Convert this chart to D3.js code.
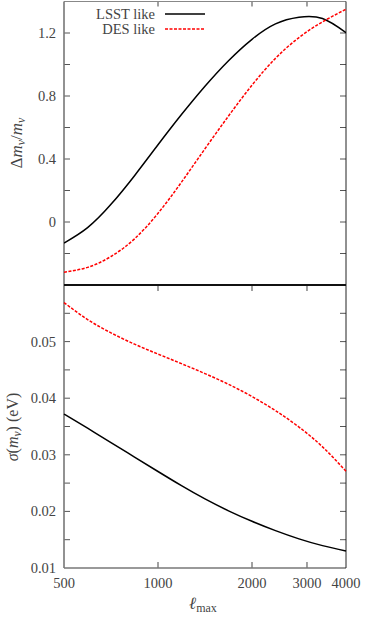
<!DOCTYPE html>
<html>
<head>
<meta charset="utf-8">
<script src="https://cdn.jsdelivr.net/npm/d3@7"></script>
<style>
  body { margin: 0; background: #fff; }
</style>
</head>
<body>
<div id="chart-area"></div>
<script>
// l_max grid, evenly spaced in log
const ell = [500, 595, 707, 841, 1000, 1189, 1414, 1682, 2000, 2378, 2828, 3364, 4000]
const lsstBias = [-0.134, -0.036, 0.112, 0.294, 0.490, 0.682, 0.862, 1.024, 1.160, 1.258, 1.300, 1.292, 1.202]
const desBias = [-0.319, -0.288, -0.219, -0.107, 0.055, 0.253, 0.465, 0.673, 0.869, 1.039, 1.171, 1.271, 1.351]
const lsstSigma = [0.0372, 0.0347, 0.03215, 0.0296, 0.02705, 0.02455, 0.0222, 0.0201, 0.01825, 0.0166, 0.01515, 0.01395, 0.0130]
const desSigma = [0.0569, 0.0539, 0.05155, 0.04955, 0.0478, 0.0461, 0.04435, 0.04245, 0.0403, 0.0378, 0.0349, 0.0314, 0.0271]

const xTicks = [500, 1000, 2000, 3000, 4000]
const topTicks = [0, 0.4, 0.8, 1.2]
const topMinor = [-0.2, 0, 0.2, 0.4, 0.6, 0.8, 1.0, 1.2]
const botTicks = [0.01, 0.02, 0.03, 0.04, 0.05]
const botMinor = [0.015, 0.02, 0.025, 0.03, 0.035, 0.04, 0.045, 0.05, 0.055]

const L = 64, R = 346
const TOP = { y0: 1.5, y1: 285 }
const BOT = { y0: 285, y1: 568 }
const FONT = "'Liberation Serif', 'DejaVu Serif', serif"

const svg = d3.select("#chart-area").append("svg")
  .attr("width", 367)
  .attr("height", 617)
  .attr("font-family", FONT)

const x = d3.scaleLog().domain([500, 4000]).range([L, R])
const yTop = d3.scaleLinear().domain([-0.4, 1.4]).range([TOP.y1, TOP.y0])
const yBot = d3.scaleLinear().domain([0.01, 0.06]).range([BOT.y1, BOT.y0])

// inward ticks on both sides
function yTicksIn(y, vals) {
  vals.forEach(v => {
    svg.append("line").attr("x1", L).attr("x2", L + 6).attr("y1", y(v)).attr("y2", y(v))
      .attr("stroke", "#555").attr("stroke-width", 1)
    svg.append("line").attr("x1", R).attr("x2", R - 6).attr("y1", y(v)).attr("y2", y(v))
      .attr("stroke", "#555").attr("stroke-width", 1)
  })
}
yTicksIn(yTop, topMinor)
yTicksIn(yBot, botMinor)

const inner = [1000, 2000, 3000]
inner.forEach(v => {
  svg.append("line").attr("x1", x(v)).attr("x2", x(v)).attr("y1", TOP.y0).attr("y2", TOP.y0 + 5)
    .attr("stroke", "#444")
  svg.append("line").attr("x1", x(v)).attr("x2", x(v)).attr("y1", BOT.y0).attr("y2", BOT.y0 + 6)
    .attr("stroke", "#444")
  svg.append("line").attr("x1", x(v)).attr("x2", x(v)).attr("y1", BOT.y1).attr("y2", BOT.y1 - 6)
    .attr("stroke", "#444")
})

// tick labels
svg.selectAll(".ytop").data(topTicks).join("text")
  .attr("x", L - 8).attr("y", d => yTop(d) + 5)
  .attr("text-anchor", "end").attr("fill", "#444").style("font-size", "14.5px")
  .text(d => d === 0 ? "0" : d.toFixed(1))

svg.selectAll(".ybot").data(botTicks).join("text")
  .attr("x", L - 8).attr("y", d => yBot(d) + 5)
  .attr("text-anchor", "end").attr("fill", "#444").style("font-size", "14.5px")
  .text(d => d.toFixed(2))

svg.selectAll(".xl").data(xTicks).join("text")
  .attr("x", d => x(d)).attr("y", 588)
  .attr("text-anchor", "middle").attr("fill", "#444").style("font-size", "14.5px")
  .text(d => d)

// frame
svg.append("line").attr("x1", L).attr("x2", R).attr("y1", TOP.y0).attr("y2", TOP.y0)
  .attr("stroke", "#888").attr("stroke-width", 1.2)
svg.append("line").attr("x1", L).attr("x2", L).attr("y1", TOP.y0).attr("y2", BOT.y1)
  .attr("stroke", "#777").attr("stroke-width", 1.6)
svg.append("line").attr("x1", L).attr("x2", R).attr("y1", BOT.y1).attr("y2", BOT.y1)
  .attr("stroke", "#777").attr("stroke-width", 1.6)
svg.append("line").attr("x1", R).attr("x2", R).attr("y1", TOP.y0).attr("y2", BOT.y1)
  .attr("stroke", "#222").attr("stroke-width", 1)
svg.append("line").attr("x1", L).attr("x2", R).attr("y1", BOT.y0).attr("y2", BOT.y0)
  .attr("stroke", "#111").attr("stroke-width", 2)

// curves
svg.append("clipPath").attr("id", "ct").append("rect")
  .attr("x", L).attr("y", TOP.y0).attr("width", R - L).attr("height", TOP.y1 - TOP.y0)

function curve(ys, y, color, dash, clip) {
  const line = d3.line()
    .x(d => x(d[0]))
    .y(d => y(d[1]))
    .curve(d3.curveNatural)
  const p = svg.append("path")
    .datum(ell.map((v, i) => [v, ys[i]]))
    .attr("fill", "none")
    .attr("stroke", color)
    .attr("stroke-width", 1.5)
    .attr("d", line)
  if (dash) p.attr("stroke-dasharray", dash)
  if (clip) p.attr("clip-path", "url(#ct)")
}
curve(lsstBias, yTop, "#000", null, true)
curve(desBias, yTop, "#ff0000", "3,1.5", true)
curve(lsstSigma, yBot, "#000", null, false)
curve(desSigma, yBot, "#ff0000", "3,1.5", false)

// legend
svg.append("text").attr("x", 155).attr("y", 19).attr("text-anchor", "end")
  .attr("fill", "#444").style("font-size", "14.5px").text("LSST like")
svg.append("text").attr("x", 155).attr("y", 34).attr("text-anchor", "end")
  .attr("fill", "#444").style("font-size", "14.5px").text("DES like")
svg.append("line").attr("x1", 165).attr("x2", 205).attr("y1", 14).attr("y2", 14)
  .attr("stroke", "#000").attr("stroke-width", 1.5)
svg.append("line").attr("x1", 165).attr("x2", 205).attr("y1", 29).attr("y2", 29)
  .attr("stroke", "#ff0000").attr("stroke-width", 1.5).attr("stroke-dasharray", "3,1.5")

// y labels
const yl1 = svg.append("text")
  .attr("transform", "translate(22,143) rotate(-90)")
  .attr("text-anchor", "middle").attr("fill", "#444").style("font-size", "17px")
yl1.append("tspan").text("Δ")
yl1.append("tspan").style("font-style", "italic").text("m")
yl1.append("tspan").attr("dy", 3).style("font-size", "12px").style("font-style", "italic").text("ν")
yl1.append("tspan").attr("dy", -3).text("/")
yl1.append("tspan").style("font-style", "italic").text("m")
yl1.append("tspan").attr("dy", 3).style("font-size", "12px").style("font-style", "italic").text("ν")

const yl2 = svg.append("text")
  .attr("transform", "translate(18,427) rotate(-90)")
  .attr("text-anchor", "middle").attr("fill", "#444").style("font-size", "16px")
yl2.append("tspan").style("font-style", "italic").text("σ")
yl2.append("tspan").text("(")
yl2.append("tspan").style("font-style", "italic").text("m")
yl2.append("tspan").attr("dy", 3).style("font-size", "11.5px").style("font-style", "italic").text("ν")
yl2.append("tspan").attr("dy", -3).text(") (eV)")

// x label
const xl = svg.append("text").attr("x", 203).attr("y", 609)
  .attr("text-anchor", "middle").attr("fill", "#444").style("font-size", "17px")
xl.append("tspan").style("font-style", "italic").text("ℓ")
xl.append("tspan").attr("dy", 3).style("font-size", "12px").text("max")
</script>
</body>
</html>
